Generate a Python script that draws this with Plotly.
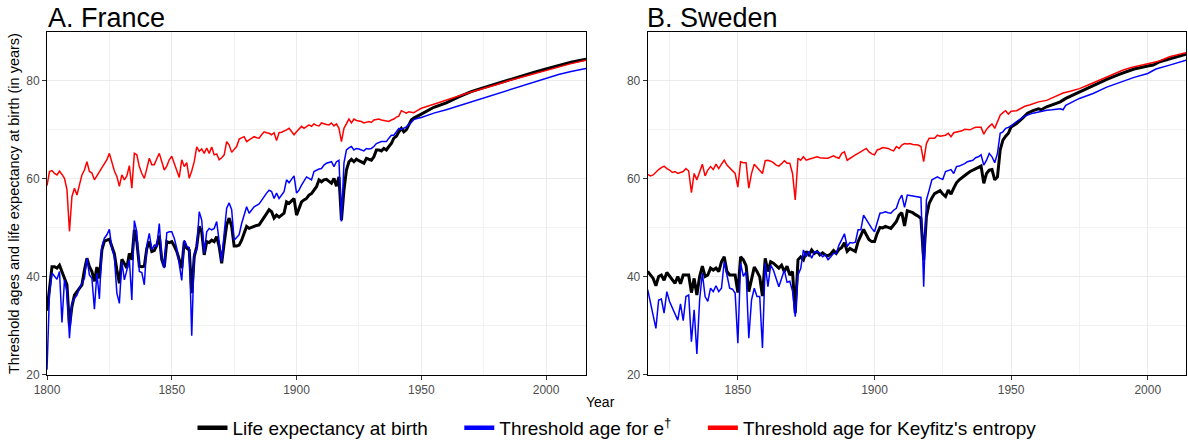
import plotly.graph_objects as go

# ---------------- France ----------------
FR_ANNUAL_START = 1800
FR_E0_ANNUAL = [
    33.0, 37.3, 42.0, 42.0, 41.7, 42.3, 41.0, 39.5, 38.3, 29.8,
    33.9, 36.2, 36.9, 37.5, 38.3, 41.3, 43.7, 42.0, 41.0, 39.0,
    41.9, 39.6, 45.4, 47.2, 47.4, 47.6, 46.1, 44.6, 41.3, 38.6,
    43.5, 42.7, 41.7, 44.7, 43.4, 49.5, 47.1, 42.1, 42.0, 42.1,
    45.7, 47.1, 45.1, 45.3, 46.4, 48.3, 43.4, 41.9, 47.1, 46.9,
    47.1, 46.2, 45.1, 43.4, 41.7, 47.1, 45.8, 45.4, 36.6, 44.0,
    46.1, 50.2, 49.1, 44.4, 47.1, 46.9, 47.4, 47.1, 48.1, 46.1,
    42.7, 46.8, 50.5, 51.9, 50.2, 46.2, 46.2, 46.4, 47.4, 48.8,
    50.2, 49.8, 50.0, 50.3, 50.4, 50.5, 51.2, 51.9, 52.8, 53.6,
    53.2, 51.9, 52.5, 52.1, 52.5, 52.9, 55.2, 54.9, 55.4, 55.9,
    52.5, 54.0, 55.2, 55.6, 55.9, 56.6, 56.9, 57.6, 58.3, 59.7,
    59.3, 59.7, 59.8, 59.4, 59.0, 60.0, 58.4, 60.3, 51.5, 57.6,
    61.7, 63.4, 63.9, 63.4, 63.9, 63.6, 63.4, 63.1, 64.1, 63.9,
    63.7, 64.4, 65.8, 65.8, 65.6, 66.1, 65.8, 66.5, 67.1, 68.2,
    68.6, 69.5, 70.2, 69.5, 69.9, 70.9, 71.9, 72.3, 72.6, 72.9,
]
FR_E0_LATE_YEARS = [1950, 1955, 1960, 1965, 1970, 1975, 1980, 1985, 1990, 1995, 2000, 2005, 2010, 2016]
FR_E0_LATE = [73.1, 74.5, 75.4, 76.6, 77.7, 78.5, 79.3, 80.1, 80.9, 81.6, 82.3, 83.0, 83.7, 84.3]

FR_EDAG_ANNUAL = [
    21.0, 36.6, 40.7, 40.0, 39.4, 41.0, 30.6, 39.3, 36.9, 27.4,
    34.5, 35.5, 36.2, 37.6, 38.6, 39.6, 43.7, 40.3, 39.6, 33.3,
    40.7, 35.4, 46.1, 47.8, 48.5, 49.6, 45.7, 44.0, 36.6, 34.5,
    43.0, 39.3, 41.3, 43.4, 35.2, 51.4, 49.1, 41.0, 40.8, 38.3,
    46.4, 48.8, 45.4, 46.4, 46.1, 50.8, 43.7, 41.7, 48.9, 49.1,
    49.1, 47.8, 45.7, 42.3, 39.2, 47.4, 46.1, 45.9, 27.9, 44.7,
    45.4, 53.2, 51.5, 44.7, 49.1, 49.8, 49.5, 49.8, 51.2, 47.1,
    43.0, 48.8, 53.9, 55.0, 53.6, 47.4, 48.0, 48.5, 50.8, 52.5,
    54.2, 52.9, 53.5, 54.2, 54.5, 54.8, 55.5, 56.3, 57.0, 57.6,
    57.3, 55.9, 57.0, 55.9, 56.5, 57.3, 59.7, 59.1, 59.8, 60.5,
    57.0, 57.6, 58.6, 59.5, 60.3, 60.0, 59.7, 61.4, 61.7, 61.9,
    62.0, 62.7, 63.1, 63.2, 63.4, 62.4, 63.4, 63.7, 51.2, 63.1,
    65.8, 66.2, 66.5, 65.8, 66.1, 66.0, 65.8, 65.6, 66.1, 66.0,
    66.1, 66.5, 67.1, 67.3, 67.5, 67.5, 67.5, 68.2, 68.8, 68.8,
    69.5, 70.2, 70.0, 70.2, 70.5, 71.0, 71.4, 72.0, 72.2, 72.3,
]
FR_EDAG_LATE_YEARS = [1950, 1955, 1960, 1965, 1970, 1975, 1980, 1985, 1990, 1995, 2000, 2005, 2010, 2016]
FR_EDAG_LATE = [72.4, 73.3, 74.0, 74.8, 75.7, 76.5, 77.2, 78.1, 78.9, 79.7, 80.4, 81.2, 81.8, 82.4]

FR_KEYF_ANNUAL = [
    58.5, 61.4, 61.6, 61.0, 60.7, 61.5, 60.8, 60.0, 57.7, 49.2,
    56.3, 58.0, 56.6, 58.5, 60.7, 61.7, 63.4, 61.4, 61.1, 59.7,
    60.5, 61.4, 62.3, 63.0, 63.8, 65.1, 63.1, 61.5, 60.4, 58.4,
    60.7, 59.7, 60.5, 62.6, 58.0, 65.1, 64.8, 62.4, 61.0, 60.0,
    62.0, 64.1, 62.8, 62.8, 64.0, 65.1, 63.4, 61.7, 62.5, 63.8,
    64.5, 63.1, 61.5, 60.2, 63.8, 62.4, 63.2, 60.0, 61.5, 63.4,
    66.4, 65.5, 66.0, 65.1, 66.2, 65.1, 66.4, 64.8, 65.0, 63.8,
    64.2, 64.8, 67.5, 66.8, 65.3, 65.8, 66.5, 68.0, 68.3, 68.5,
    67.5, 67.8, 68.2, 68.5, 68.3, 68.2, 68.9, 69.5, 69.3, 69.2,
    68.9, 69.3, 67.7, 69.3, 69.4, 69.6, 69.9, 70.2, 69.6, 68.9,
    69.5, 70.0, 70.6, 70.2, 70.6, 70.9, 70.6, 71.1, 70.8, 70.7,
    71.3, 71.1, 71.0, 70.9, 71.3, 70.7, 71.1, 70.2, 67.5, 70.2,
    71.3, 72.1, 71.3, 72.1, 71.8, 71.7, 71.6, 71.3, 71.5, 71.6,
    71.4, 71.9, 72.0, 72.1, 71.9, 71.8, 71.7, 71.6, 71.9, 72.1,
    72.5, 72.7, 73.8, 73.5, 73.3, 73.6, 73.5, 73.4, 73.7, 74.0,
]
FR_KEYF_LATE_YEARS = [1950, 1955, 1960, 1965, 1970, 1975, 1980, 1985, 1990, 1995, 2000, 2005, 2010, 2016]
FR_KEYF_LATE = [74.3, 75.1, 76.0, 76.8, 77.6, 78.3, 79.1, 79.9, 80.6, 81.4, 82.1, 82.8, 83.4, 84.1]

# ---------------- Sweden ----------------
SE_ANNUAL_START = 1817
SE_E0_ANNUAL = [
    41.0, 40.3, 39.6,
    38.1, 40.0, 40.3, 39.2, 40.8, 40.0, 39.3, 38.6, 40.0, 38.5,
    40.3, 40.3, 40.3, 36.7, 39.6, 36.2, 40.0, 42.1, 40.0, 40.3,
    41.7, 41.3, 41.7, 41.0, 43.0, 44.0, 41.0, 40.3, 40.3, 40.3,
    36.7, 44.0, 43.4, 42.2, 36.9, 39.6, 41.9, 41.0, 39.9, 36.0,
    43.7, 41.0, 43.0, 42.7, 42.1, 41.7, 42.3, 41.0, 42.1, 40.3,
    41.0, 32.5, 43.4, 44.0, 43.4, 45.1, 44.4, 45.4, 44.7, 45.1,
    44.4, 44.8, 44.4, 44.2, 44.6, 45.3, 44.7, 45.5, 45.9, 46.9,
    45.1, 45.7, 45.4, 45.1, 47.1, 48.5, 49.6, 48.5, 47.5, 47.1,
    47.1, 48.8, 50.0, 49.9, 50.2, 50.0, 49.8, 50.5, 51.2, 52.5,
    53.0, 50.3, 53.4, 53.2, 53.0, 52.6, 52.3, 51.8, 43.3, 52.2,
    54.9, 56.0, 56.9, 57.2, 57.5, 56.8, 56.3, 57.6, 56.8, 58.0,
    59.1, 59.7, 60.2, 60.7, 61.0, 61.4, 61.7, 62.0, 62.3, 62.5,
    59.0, 61.0, 61.7, 61.8, 59.7, 60.3, 65.8, 67.8, 68.6, 69.2,
]
SE_E0_LATE_YEARS = [1950, 1952, 1954, 1956, 1958, 1960, 1961, 1963, 1965, 1968, 1970, 1975, 1980,
                    1985, 1990, 1995, 2000, 2002, 2004, 2008, 2014]
SE_E0_LATE = [70.5, 71.2, 72.2, 73.3, 73.8, 74.2, 74.0, 74.6, 75.0, 75.6, 76.3, 77.6, 78.9,
              80.2, 81.3, 82.3, 82.9, 83.1, 83.7, 84.3, 85.3]

SE_EDAG_ANNUAL = [
    37.3, 34.5, 31.5,
    29.4, 35.2, 35.4, 32.5, 36.9, 34.9, 33.5, 32.2, 31.1, 34.4,
    31.0, 35.9, 36.2, 26.7, 33.2, 24.2, 35.2, 40.7, 35.9, 34.9,
    37.6, 36.9, 38.1, 36.9, 37.6, 43.0, 40.0, 37.6, 37.4, 36.6,
    26.4, 42.7, 40.0, 41.0, 27.4, 35.2, 37.6, 35.9, 35.9, 25.4,
    42.7, 37.9, 42.3, 41.3, 39.6, 37.9, 39.6, 41.3, 38.8, 39.0,
    37.0, 31.8, 40.3, 41.6, 45.4, 44.0, 45.1, 43.7, 45.0, 45.1,
    44.7, 44.0, 44.4, 43.4, 44.0, 44.7, 44.7, 46.4, 47.5, 48.7,
    46.1, 46.9, 46.8, 47.0, 49.5, 49.5, 52.5, 51.6, 50.5, 49.8,
    49.1, 51.2, 52.9, 53.0, 53.2, 53.0, 52.9, 53.5, 53.9, 55.6,
    56.6, 54.1, 56.6, 56.5, 56.4, 56.2, 56.1, 56.1, 37.9, 55.6,
    57.6, 59.7, 60.0, 60.3, 60.0, 59.8, 61.4, 61.6, 61.8, 61.0,
    62.4, 62.5, 62.7, 63.0, 63.4, 63.6, 63.7, 64.2, 64.4, 64.8,
    62.7, 63.7, 65.1, 64.4, 63.2, 65.1, 69.2, 69.5, 70.2, 70.4,
]
SE_EDAG_LATE_YEARS = [1950, 1952, 1955, 1958, 1960, 1963, 1965, 1968, 1969, 1970, 1975, 1980,
                      1985, 1990, 1995, 2000, 2003, 2008, 2014]
SE_EDAG_LATE = [70.7, 71.6, 72.7, 73.3, 73.6, 73.9, 74.0, 74.2, 74.0, 74.9, 76.3, 77.3,
                78.6, 79.6, 80.6, 81.4, 82.3, 83.1, 84.1]

SE_KEYF_ANNUAL = [
    60.8, 60.5, 60.7,
    61.3, 61.8, 62.2, 62.5, 62.0, 61.7, 61.2, 61.4, 61.0, 61.2,
    61.4, 62.0, 61.5, 57.1, 61.0, 59.7, 61.4, 62.9, 60.5, 61.7,
    62.4, 61.8, 62.9, 62.0, 62.9, 63.7, 62.7, 62.2, 61.7, 61.0,
    58.2, 63.4, 63.2, 63.2, 58.0, 61.0, 62.9, 62.2, 61.5, 61.0,
    63.6, 63.7, 63.5, 63.2, 62.7, 62.5, 63.0, 63.6, 63.1, 63.1,
    61.0, 55.6, 64.1, 63.7, 64.4, 63.7, 63.9, 64.1, 64.2, 64.4,
    64.2, 64.1, 64.1, 64.1, 64.4, 64.6, 64.3, 64.1, 65.1, 65.4,
    63.7, 64.1, 64.4, 64.8, 65.1, 65.4, 65.7, 66.1, 65.4, 65.0,
    64.8, 65.8, 66.0, 66.3, 66.2, 66.1, 65.8, 65.6, 66.5, 66.1,
    66.8, 67.1, 67.0, 67.1, 66.9, 66.8, 66.8, 66.5, 63.4, 67.1,
    68.2, 68.2, 68.2, 68.8, 68.6, 68.7, 68.8, 69.2, 68.5, 69.3,
    69.4, 69.5, 69.7, 70.0, 69.9, 69.9, 70.2, 70.4, 70.4, 70.4,
    69.0, 70.0, 70.6, 71.1, 70.2, 71.5, 72.9, 73.4, 73.8, 73.1,
]
SE_KEYF_LATE_YEARS = [1950, 1952, 1955, 1957, 1960, 1963, 1966, 1969, 1972, 1975, 1978, 1981,
                      1985, 1988, 1991, 1994, 1997, 2000, 2004, 2008, 2014]
SE_KEYF_LATE = [73.7, 73.8, 74.7, 75.0, 75.6, 75.9, 76.6, 77.4, 77.8, 78.3, 79.0, 79.7,
                80.7, 81.4, 82.1, 82.6, 83.0, 83.3, 83.9, 84.8, 85.6]

NBSP = "\u00a0"
SERIES_NAMES = ["Life expectancy at birth" + NBSP * 5,
                "Threshold age for e<sup>\u2020</sup>" + NBSP * 5,
                "Threshold age for Keyfitz's entropy"]
SERIES_COLORS = ["#000000", "#0000FF", "#FF0000"]
SERIES_WIDTHS = [3.0, 1.5, 1.5]
PANEL_TITLES = ["A. France", "B. Sweden"]
X_TICKS_FR = [1800, 1850, 1900, 1950, 2000]
X_TICKS_SE = [1850, 1900, 1950, 2000]
Y_TICKS = [20, 40, 60, 80]


def full_series(start, annual, late_years, late_vals):
    years = list(range(start, start + len(annual))) + list(late_years)
    return years, list(annual) + list(late_vals)


fr = [full_series(FR_ANNUAL_START, FR_E0_ANNUAL, FR_E0_LATE_YEARS, FR_E0_LATE),
      full_series(FR_ANNUAL_START, FR_EDAG_ANNUAL, FR_EDAG_LATE_YEARS, FR_EDAG_LATE),
      full_series(FR_ANNUAL_START, FR_KEYF_ANNUAL, FR_KEYF_LATE_YEARS, FR_KEYF_LATE)]
se = [full_series(SE_ANNUAL_START, SE_E0_ANNUAL, SE_E0_LATE_YEARS, SE_E0_LATE),
      full_series(SE_ANNUAL_START, SE_EDAG_ANNUAL, SE_EDAG_LATE_YEARS, SE_EDAG_LATE),
      full_series(SE_ANNUAL_START, SE_KEYF_ANNUAL, SE_KEYF_LATE_YEARS, SE_KEYF_LATE)]

fig = go.Figure()
for panel, (xa, ya) in zip([fr, se], [("x", "y"), ("x2", "y2")]):
    for i, (yrs, vals) in enumerate(panel):
        fig.add_trace(go.Scatter(x=yrs, y=vals, mode="lines", xaxis=xa, yaxis=ya,
                                 line=dict(color=SERIES_COLORS[i], width=SERIES_WIDTHS[i]),
                                 showlegend=False, hoverinfo="skip"))
# legend entries
for i in range(3):
    fig.add_trace(go.Scatter(x=[None], y=[None], mode="lines", name=SERIES_NAMES[i],
                             line=dict(color=SERIES_COLORS[i], width=4.5), showlegend=True))

W, H = 1188, 444
PLOT_L, PLOT_R, PLOT_T, PLOT_B = 47, 1186, 32, 375   # plot-area bounds in window pixels
ML, MR, MT, MB = PLOT_L, W - PLOT_R, PLOT_T, H - PLOT_B
PW = PLOT_R - PLOT_L
PH = PLOT_B - PLOT_T
fr_dom = [0, (586 - PLOT_L) / PW]
se_dom = [(647.7 - PLOT_L) / PW, 1]

FONT = "Liberation Sans, Arial, sans-serif"
common_x = dict(showline=True, linecolor="#000000", linewidth=1, mirror=True,
                ticks="outside", ticklen=4, tickcolor="#333333", tickwidth=1,
                showgrid=True, gridcolor="#ebebeb", gridwidth=1, zeroline=False,
                tickfont=dict(family=FONT, size=12, color="#4d4d4d"),
                minor=dict(dtick=25, showgrid=True, gridcolor="#f2f2f2", gridwidth=1, ticks=""))
common_y = dict(showline=True, linecolor="#000000", linewidth=1, mirror=True,
                ticks="outside", ticklen=4, tickcolor="#333333", tickwidth=1,
                showgrid=True, gridcolor="#ebebeb", gridwidth=1, zeroline=False,
                tickvals=Y_TICKS, range=[19.9, 89.85],
                tickfont=dict(family=FONT, size=12, color="#4d4d4d"),
                minor=dict(tickvals=[30, 50, 70, 90], showgrid=True, gridcolor="#f2f2f2",
                           gridwidth=1, ticks=""))

fig.update_layout(
    width=W, height=H,
    margin=dict(l=ML, r=MR, t=MT, b=MB, autoexpand=False),
    paper_bgcolor="white", plot_bgcolor="white",
    font=dict(family=FONT, color="#000000"),
    xaxis=dict(domain=fr_dom, anchor="y", range=[1800, 2016], tickvals=X_TICKS_FR,
               tick0=1800, **common_x),
    yaxis=dict(domain=[0, 1], anchor="x", **common_y),
    xaxis2=dict(domain=se_dom, anchor="y2", range=[1817, 2014], tickvals=X_TICKS_SE,
                tick0=1800, **common_x),
    yaxis2=dict(domain=[0, 1], anchor="x2", **common_y),
    legend=dict(orientation="h", x=(617 - PLOT_L) / PW, xanchor="center",
                y=-(428 - PLOT_B) / PH, yanchor="middle",
                font=dict(family=FONT, size=19, color="#000000"),
                bgcolor="rgba(0,0,0,0)", itemwidth=30, tracegroupgap=0),
    showlegend=True,
)

annotations = [
    dict(text=PANEL_TITLES[0], xref="paper", yref="paper", x=fr_dom[0], y=1,
         xanchor="left", yanchor="bottom", showarrow=False, xshift=-1, yshift=-3,
         font=dict(family=FONT, size=27, color="#000000")),
    dict(text=PANEL_TITLES[1], xref="paper", yref="paper", x=se_dom[0], y=1,
         xanchor="left", yanchor="bottom", showarrow=False, xshift=-3, yshift=-3,
         font=dict(family=FONT, size=27, color="#000000")),
    dict(text="Threshold ages and life expectancy at birth (in years)", xref="paper",
         yref="paper", x=(14 - PLOT_L) / PW, y=(PLOT_B - 204) / PH, xanchor="center",
         yanchor="middle", textangle=-90, showarrow=False,
         font=dict(family=FONT, size=14.5, color="#000000")),
    dict(text="Year", xref="paper", yref="paper", x=(600 - PLOT_L) / PW,
         y=-(402 - PLOT_B) / PH, xanchor="center", yanchor="middle", showarrow=False,
         font=dict(family=FONT, size=14, color="#000000")),
]
fig.update_layout(annotations=annotations)

# Remove the browser's default 8px page margin so the figure sits at the window corner.
fig.write_html("out.html", config={"displayModeBar": False},
               post_script="document.body.style.margin='0px';")
